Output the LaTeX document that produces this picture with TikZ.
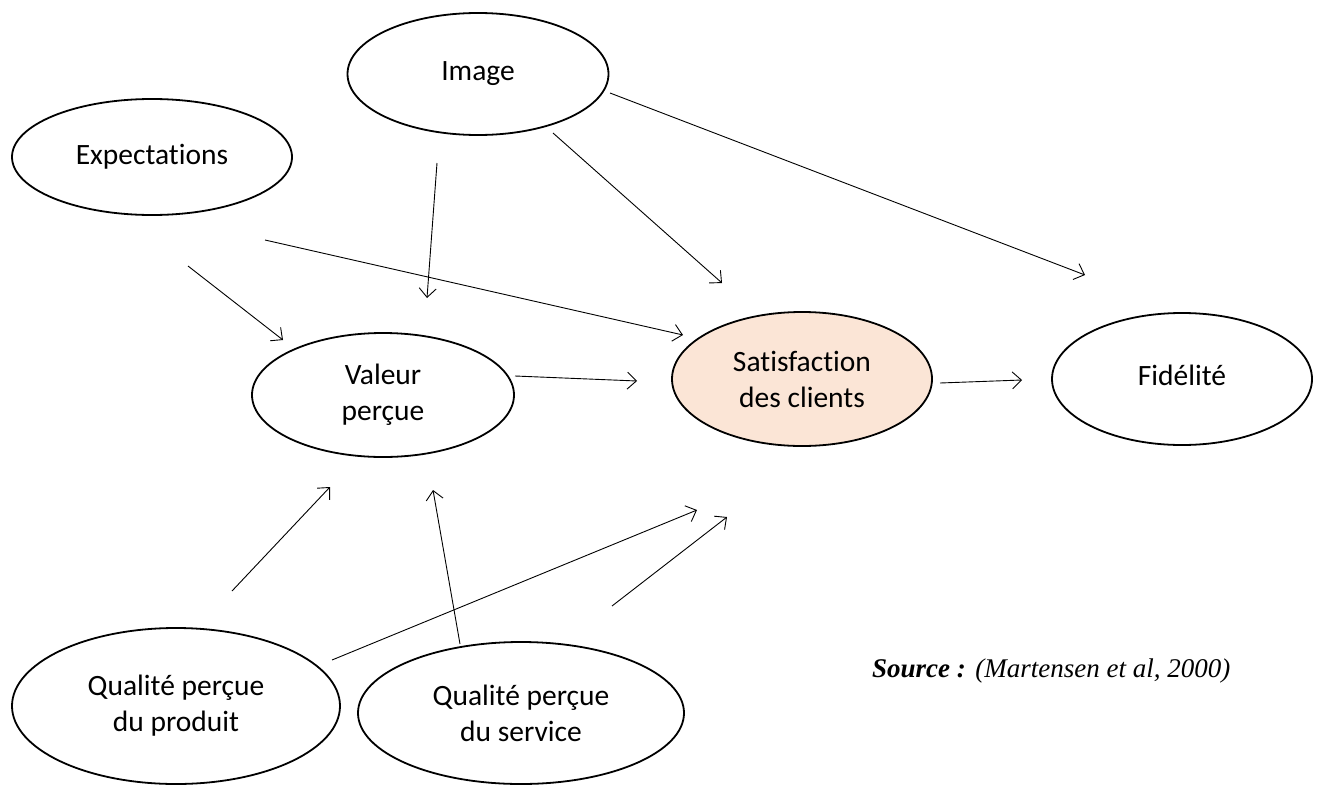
\documentclass[tikz,border=0pt]{standalone}
\usepackage{fontspec}
\setmainfont{Carlito}[Ligatures=NoCommon]
\newfontfamily\srcfont{Liberation Serif}
\usetikzlibrary{shapes.geometric,arrows.meta}
\definecolor{satfill}{HTML}{FBE5D6}
\begin{document}
\begin{tikzpicture}[x=1pt,y=-1pt,
  oval/.style={ellipse,draw=black,line width=1.8pt,inner sep=0pt,align=center,
    font=\fontsize{29.5}{36}\selectfont},
  conn/.style={line width=0.9pt,-{Straight Barb[length=9pt,width=17pt,line width=0.9pt]}}]
\useasboundingbox (0,0) rectangle (1319,787);
\node[oval,minimum width=261pt,minimum height=122pt] (img) at (478,74) {\raisebox{3pt}{Image}};
\node[oval,minimum width=280pt,minimum height=116pt] (exp) at (152,157) {\raisebox{5pt}{Expectations}};
\node[oval,minimum width=262pt,minimum height=124pt] (val) at (383,395) {Valeur\\perçue};
\node[oval,fill=satfill,minimum width=260pt,minimum height=134pt] (sat) at (802,379) {Satisfaction\\des clients};
\node[oval,minimum width=260pt,minimum height=132pt] (fid) at (1182,379) {\raisebox{7pt}{Fidélité}};
\node[oval,minimum width=328pt,minimum height=156pt] (qpp) at (176,706) {Qualité perçue\\du produit};
\node[oval,minimum width=326pt,minimum height=142pt] (qps) at (521,713) {Qualité perçue\\du service};
\node[anchor=base west,inner sep=0pt,font=\srcfont\fontsize{27}{31}\selectfont] (src) at (872,677)
  {\textbf{\textit{Source :}}\hspace{0.35em}\textit{(Martensen et al, 2000)}};
% connector endpoints
\coordinate (a1) at (188,266); \coordinate (b1) at (283,340);
\coordinate (a2) at (265,240); \coordinate (b2) at (683,335);
\coordinate (a3) at (437,163); \coordinate (b3) at (427,298);
\coordinate (a4) at (553,133); \coordinate (b4) at (722,283);
\coordinate (a5) at (610,93);  \coordinate (b5) at (1085,275);
\coordinate (a6) at (515,376); \coordinate (b6) at (637,381);
\coordinate (a7) at (940,383); \coordinate (b7) at (1022,380);
\coordinate (a8) at (232,591); \coordinate (b8) at (330,487);
\coordinate (a9) at (332,660); \coordinate (b9) at (697,510);
\coordinate (a10) at (460,644); \coordinate (b10) at (433,490);
\coordinate (a11) at (612,606); \coordinate (b11) at (727,517);
\foreach \i in {1,...,11} {\draw[conn] (a\i) -- (b\i);}
\end{tikzpicture}
\end{document}
